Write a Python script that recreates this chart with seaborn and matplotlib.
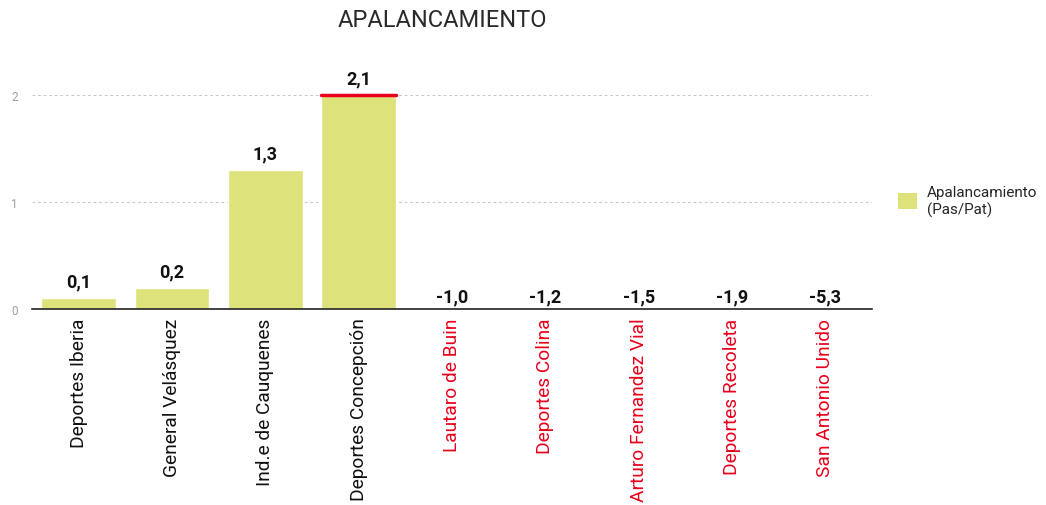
import pandas as pd
import seaborn as sns
import matplotlib.pyplot as plt
from matplotlib.patches import Patch

clubs = ['Deportes Iberia', 'General Velásquez', 'Ind.e de Cauquenes', 'Deportes Concepción',
         'Lautaro de Buin', 'Deportes Colina', 'Arturo Fernandez Vial', 'Deportes Recoleta',
         'San Antonio Unido']
apalancamiento = [0.1, 0.2, 1.3, 2.1, -1.0, -1.2, -1.5, -1.9, -5.3]
labels = ['0,1', '0,2', '1,3', '2,1', '-1,0', '-1,2', '-1,5', '-1,9', '-5,3']

bar_color = '#dee27a'
ymax = 2

sns.set_style('white')
plt.rcParams['font.family'] = ['Roboto', 'DejaVu Sans']

df = pd.DataFrame({'Club': clubs, 'Valor': apalancamiento})

fig = plt.figure(figsize=(10.46, 5.06), dpi=100)
ax = fig.add_axes([0.0306, 0.387, 0.8031, 0.423])
sns.barplot(data=df, x='Club', y='Valor', color=bar_color, width=0.8, saturation=1, ax=ax)
ax.set_ylim(0, ymax)

# values above the axis limit get a red cap
for i, v in enumerate(apalancamiento):
    if v > ymax:
        ax.plot([i - 0.4, i + 0.4], [ymax, ymax], color='#e8001c', lw=2.5, clip_on=False, zorder=5)
    top = min(max(v, 0), ymax)
    off = 5.5 if v > 0 else 3
    ax.annotate(labels[i], (i, top), xytext=(0, off), textcoords='offset points',
                ha='center', va='bottom', fontsize=13, fontweight='bold', color='#111111')

ax.set_yticks([0, 1, 2])
ax.set_yticklabels(['0', '1', '2'], color='#9e9e9e', fontsize=8.5)
ax.tick_params(axis='y', length=0, pad=10)
ax.tick_params(axis='x', length=0, pad=6)
ax.set_xticks(range(len(clubs)))
ax.set_xticklabels(clubs, rotation=90, fontsize=13.8)
for t, v in zip(ax.get_xticklabels(), apalancamiento):
    t.set_color('#e8001c' if v < 0 else '#111111')

for y in [1, 2]:
    ax.axhline(y, color='#c8c8c8', lw=0.8, ls=(0, (2.5, 2.5)), zorder=0)

for s in ['top', 'right', 'left']:
    ax.spines[s].set_visible(False)
ax.spines['bottom'].set_color('#222222')
ax.spines['bottom'].set_linewidth(1.2)
ax.set_xlabel('')
ax.set_ylabel('')
ax.set_xlim(-0.5, len(clubs) - 0.5)

fig.text(0.423, 0.96, 'APALANCAMIENTO', ha='center', va='center', fontsize=17, color='#2a2a2a')

handle = Patch(facecolor=bar_color, edgecolor='none')
fig.legend([handle], ['Apalancamiento\n(Pas/Pat)'], loc='upper left', bbox_to_anchor=(0.845, 0.66),
           frameon=False, fontsize=11, handlelength=1.3, handleheight=1.3, handletextpad=0.6)

fig.savefig('out.png', dpi=100)
